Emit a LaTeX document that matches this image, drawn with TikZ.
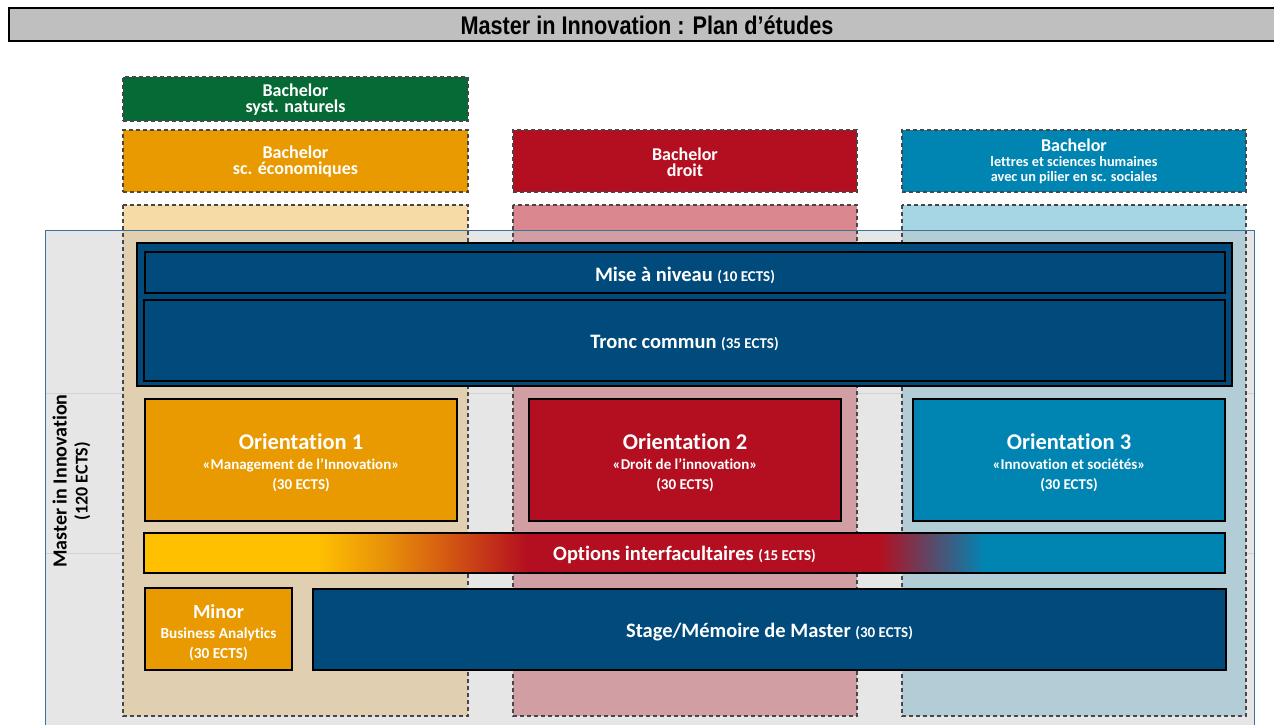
\documentclass[tikz,border=0pt]{standalone}
\usepackage{fontspec}
\setmainfont{Carlito}[Ligatures={NoCommon,NoContextual}]
\newfontfamily\titlefont[FakeStretch=0.85]{Liberation Sans}
\newcommand\fsz[2]{\fontsize{#1}{#2}\selectfont}
\definecolor{cgreen}{HTML}{066A36}
\definecolor{corange}{HTML}{E99A00}
\definecolor{cred}{HTML}{B40F20}
\definecolor{cblu}{HTML}{0085B3}
\definecolor{cdark}{HTML}{004B7C}
\definecolor{cyel}{HTML}{FFC000}
\definecolor{corA}{HTML}{E8920A}
\definecolor{corB}{HTML}{D9650F}
\definecolor{mgray}{HTML}{E6E6E6}
\definecolor{mborder}{HTML}{3F729B}
\definecolor{tgray}{HTML}{BFBFBF}
\definecolor{dashgray}{HTML}{474747}
\definecolor{oAbove}{HTML}{F7DBA7}
\definecolor{oIn}{HTML}{E0CFB0}
\definecolor{rAbove}{HTML}{DA878F}
\definecolor{rIn}{HTML}{D09EA3}
\definecolor{bAbove}{HTML}{A6D5E3}
\definecolor{bIn}{HTML}{B3CDD6}
\definecolor{faintline}{HTML}{D2D2D2}
\pgfdeclarehorizontalshading{optshade}{100bp}{color(0bp)=(cyel); color(33bp)=(cyel); color(36.1bp)=(corA); color(38.4bp)=(corB); color(42.7bp)=(cred); color(59bp)=(cred); color(63.9bp)=(cblu); color(100bp)=(cblu)}
\begin{document}
\begin{tikzpicture}[x=1pt,y=-1pt,
  nw/.style={anchor=north west, inner sep=0pt, outer sep=0pt},
  dashbox/.style={draw=dashgray, line width=1.1pt, dash pattern=on 4pt off 3pt},
  bachbox/.style={nw, dashbox},
  solidbox/.style={nw, draw=black, line width=1.3pt},
  boxtext/.style={inner sep=0pt, text=white, align=center, font=\bfseries\fsz{20.5}{20}},
  bachtext/.style={boxtext, font=\bfseries\fsz{18}{16}},
  lbltext/.style={inner sep=0pt, text=black, font=\bfseries, align=center},
  faint/.style={draw=faintline, line width=0.8pt}
]
\useasboundingbox (0,0) rectangle (1274,724);
\clip (0,0) rectangle (1274,724);
% title bar
\node[nw, draw=black, line width=2pt, fill=tgray, minimum width=1300pt, minimum height=33pt] (titlebar) at (9,8) {};
\node[lbltext, font=\titlefont\bfseries\fsz{25.5}{26}] (titletext) at (647,25.5) {Master in Innovation : Plan d’études};
% master area
\node[nw, fill=mgray, minimum width=1209pt, minimum height=520pt] (master) at (45,230) {};
\draw[faint] (45,393) -- (1254,393);
\draw[faint] (45,553) -- (1254,553);
% columns
\fill[oAbove] (123,205) rectangle (468,230);
\fill[oIn] (123,230) rectangle (468,716);
\draw[dashbox] (123,205) rectangle (468,716);
\fill[rAbove] (513,205) rectangle (857,230);
\fill[rIn] (513,230) rectangle (857,716);
\draw[dashbox] (513,205) rectangle (857,716);
\fill[bAbove] (902,205) rectangle (1246,230);
\fill[bIn] (902,230) rectangle (1246,716);
\draw[dashbox] (902,205) rectangle (1246,716);
\draw[draw=mborder, line width=1pt] (master.north west) -- (master.north east) -- (master.south east);
\draw[draw=mborder, line width=1pt] (master.north west) -- (master.south west);
% vertical label
\node[lbltext, rotate=90, font=\bfseries\fsz{20}{21}] (mlabel) at (71.5,481) {Master in Innovation\\{\fsz{18}{21}(120 ECTS)}};
% bachelor boxes
\node[bachbox, fill=cgreen, minimum width=345pt, minimum height=44pt] (bnat) at (123,77) {};
\node[bachtext] (bnatt) at ([yshift=-1pt]bnat.center) {Bachelor\\syst. naturels};
\node[bachbox, fill=corange, minimum width=345pt, minimum height=62pt] (beco) at (123,130) {};
\node[bachtext] (becot) at ([yshift=-1pt]beco.center) {Bachelor\\sc. économiques};
\node[bachbox, fill=cred, minimum width=344pt, minimum height=62pt] (bdroit) at (513,130) {};
\node[bachtext] (bdroitt) at ([yshift=-1pt]bdroit.center) {Bachelor\\droit};
\node[bachbox, fill=cblu, minimum width=344pt, minimum height=62pt] (blettres) at (902,130) {};
\node[bachtext, font=\bfseries\fsz{14.3}{15}] (blettrest) at (blettres.center) {{\fsz{18}{15}Bachelor}\\lettres et sciences humaines\\avec un pilier en sc. sociales};
% tronc commun block
\node[nw, draw=black, line width=1.5pt, fill=cdark, minimum width=1095pt, minimum height=143pt] (tcouter) at (137,243) {};
\node[solidbox, fill=cdark, minimum width=1080pt, minimum height=41pt] (mise) at (145,252) {};
\node[boxtext] (miset) at ([yshift=-2.5pt]mise.center) {Mise à niveau {\fsz{15}{20}(10 ECTS)}};
\node[solidbox, fill=cdark, minimum width=1081pt, minimum height=81pt] (tronc) at (144,300) {};
\node[boxtext] (tronct) at ([yshift=-2pt]tronc.center) {Tronc commun {\fsz{15}{20}(35 ECTS)}};
% orientations
\node[solidbox, fill=corange, minimum width=312pt, minimum height=122pt] (or1) at (145,399) {};
\node[boxtext, font=\bfseries\fsz{15}{20}] (or1t) at ([yshift=-2.5pt]or1.center) {{\fsz{22.5}{20}Orientation 1}\\«Management de l’Innovation»\\(30 ECTS)};
\node[solidbox, fill=cred, minimum width=312pt, minimum height=122pt] (or2) at (529,399) {};
\node[boxtext, font=\bfseries\fsz{15}{20}] (or2t) at ([yshift=-2.5pt]or2.center) {{\fsz{22.5}{20}Orientation 2}\\«Droit de l’innovation»\\(30 ECTS)};
\node[solidbox, fill=cblu, minimum width=312pt, minimum height=122pt] (or3) at (913,399) {};
\node[boxtext, font=\bfseries\fsz{15}{20}] (or3t) at ([yshift=-2.5pt]or3.center) {{\fsz{22.5}{20}Orientation 3}\\«Innovation et sociétés»\\(30 ECTS)};
% options
\node[solidbox, shade, shading=optshade, minimum width=1081pt, minimum height=40pt] (opts) at (144,533) {};
\node[boxtext] (optst) at ([yshift=-2pt]opts.center) {Options interfacultaires {\fsz{15}{20}(15 ECTS)}};
% minor and stage
\node[solidbox, fill=corange, minimum width=147pt, minimum height=82pt] (minor) at (145,588) {};
\node[boxtext, font=\bfseries\fsz{15.3}{20}] (minort) at ([yshift=-3.5pt]minor.center) {{\fsz{20}{20}Minor}\\Business Analytics\\(30 ECTS)};
\node[solidbox, fill=cdark, minimum width=913pt, minimum height=81pt] (stage) at (313,589) {};
\node[boxtext] (staget) at ([yshift=-2.5pt]stage.center) {Stage/Mémoire de Master {\fsz{15}{20}(30 ECTS)}};
\end{tikzpicture}
\end{document}
